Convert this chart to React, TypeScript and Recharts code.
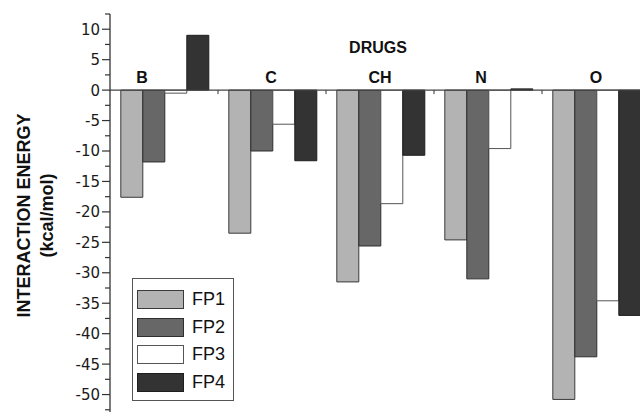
import React from 'react';
import { BarChart, Bar, XAxis, YAxis, ReferenceLine, Legend } from 'recharts';

const drugs = ['B', 'C', 'CH', 'N', 'O'];
const fp1 = [-17.6, -23.5, -31.5, -24.6, -50.8];
const fp2 = [-11.8, -10.0, -25.6, -31.0, -43.8];
const fp3 = [-0.5, -5.6, -18.65, -9.6, -34.6];
const fp4 = [9.0, -11.6, -10.7, 0.2, -37.0];
const yTicks = [12.5, 10, 7.5, 5, 2.5, 0, -2.5, -5, -7.5, -10, -12.5, -15, -17.5, -20, -22.5, -25, -27.5, -30, -32.5, -35, -37.5, -40, -42.5, -45, -47.5, -50, -52.5];
const xTitle = 'DRUGS';
const yTitle = 'INTERACTION ENERGY';
const yUnit = '(kcal/mol)';

const series = [
  { key: 'FP1', fill: '#b3b3b3', stroke: '#3a3a3a' },
  { key: 'FP2', fill: '#676767', stroke: '#2e2e2e' },
  { key: 'FP3', fill: '#ffffff', stroke: '#555555' },
  { key: 'FP4', fill: '#333333', stroke: '#1e1e1e' },
];

const data = drugs.map((d, i) => ({ drug: d, FP1: fp1[i], FP2: fp2[i], FP3: fp3[i], FP4: fp4[i] }));

// small text nudges for the category labels (styling only)
const LABEL_DX = [-22, -1, 0, -7, 0];

const BOLD = '"Liberation Sans", Arial, sans-serif';

const YTick = (props: any) => {
  const { x, y, payload } = props;
  const v = payload.value;
  const major = Math.abs(v % 5) < 1e-6;
  return (
    <g>
      <line x1={x - (major ? 8 : 5)} x2={x} y1={y} y2={y} stroke="#333" strokeWidth={1.2} />
      {major && (
        <text x={x - 10} y={y} dy="0.36em" textAnchor="end" fontFamily='"DejaVu Sans", sans-serif' fontSize={15} fill="#1a1a1a">
          {v}
        </text>
      )}
    </g>
  );
};

const ZeroLabels = (props: any) => {
  const vb = props.viewBox || {};
  const { x, y, width } = vb;
  const n = drugs.length;
  const step = width / n;
  return (
    <g>
      <text x={x + width / 2 - 2} y={y - 37} textAnchor="middle" fontFamily={BOLD} fontWeight="bold" fontSize={16} fill="#111">
        {xTitle}
      </text>
      {drugs.map((d, i) => (
        <text key={d} x={x + (i + 0.5) * step + LABEL_DX[i]} y={y - 7} textAnchor="middle" fontFamily={BOLD} fontWeight="bold" fontSize={16} fill="#111">
          {d}
        </text>
      ))}
      {drugs.slice(1).map((d, i) => (
        <line key={'t' + d} x1={x + (i + 1) * step} x2={x + (i + 1) * step} y1={y} y2={y + 4} stroke="#333" strokeWidth={1} />
      ))}
    </g>
  );
};

const YTitle = (props: any) => {
  const vb = props.viewBox || {};
  const cy = vb.y + vb.height / 2 - 4;
  return (
    <g>
      <text x={24} y={cy} transform={`rotate(-90, 24, ${cy})`} textAnchor="middle" dominantBaseline="central" fontFamily={BOLD} fontWeight="bold" fontSize={18} fill="#111">
        {yTitle}
      </text>
      <text x={47} y={cy} transform={`rotate(-90, 47, ${cy})`} textAnchor="middle" dominantBaseline="central" fontFamily={BOLD} fontWeight="bold" fontSize={18} fill="#111">
        {yUnit}
      </text>
    </g>
  );
};

const LegendBox = () => (
  <div
    style={{
      border: '1.3px solid #555',
      background: '#fff',
      padding: '7px 4px 4px 4px',
      width: 102,
      boxSizing: 'border-box',
      fontFamily: BOLD,
    }}
  >
    {series.map((s) => (
      <div key={s.key} style={{ height: 27.5, display: 'flex', alignItems: 'center' }}>
        <div style={{ width: 47, height: 19, background: s.fill, border: `1.3px solid ${s.stroke}`, boxSizing: 'border-box' }} />
        <span style={{ marginLeft: 8, fontSize: 18, color: '#111', lineHeight: '19px' }}>{s.key}</span>
      </div>
    ))}
  </div>
);

export default function App() {
  return (
    <div style={{ width: 640, height: 412, overflow: 'hidden', position: 'relative', background: '#fff' }}>
      <style>{`body{margin:0;background:#fff}`}</style>
      <BarChart
        width={660}
        height={430}
        data={data}
        margin={{ top: 14, right: 10, bottom: 5, left: 0 }}
        barCategoryGap="10%"
        barGap={0}
      >
        <XAxis dataKey="drug" hide />
        <YAxis
          type="number"
          width={110}
          domain={[-55, 12.5]}
          ticks={yTicks}
          interval={0}
          allowDataOverflow
          tickSize={0}
          tickMargin={0}
          tickLine={false}
          axisLine={{ stroke: '#333', strokeWidth: 1.3 }}
          tick={<YTick />}
          label={<YTitle />}
        />
        {series.map((s) => (
          <Bar key={s.key} dataKey={s.key} fill={s.fill} stroke={s.stroke} strokeWidth={1} isAnimationActive={false} />
        ))}
        <ReferenceLine y={0} stroke="#444" strokeWidth={1.2} label={<ZeroLabels />} />
        <Legend
          layout="horizontal"
          verticalAlign="middle"
          align="center"
          wrapperStyle={{ left: 132, top: 278, width: 102 }}
          content={<LegendBox />}
        />
      </BarChart>
    </div>
  );
}
